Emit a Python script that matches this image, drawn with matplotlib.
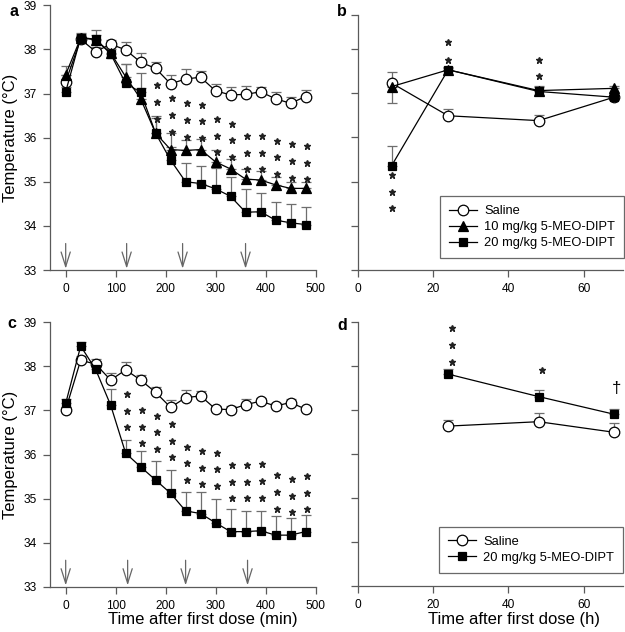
import matplotlib
matplotlib.use("Agg")
import matplotlib.pyplot as plt
import numpy as np

plt.rcParams['font.family'] = ['Liberation Sans', 'DejaVu Sans']

# ---------------- data ----------------
t_min = [0, 30, 60, 90, 120, 150, 180, 210, 240, 270, 300, 330, 360, 390, 420, 450, 480]

a_saline = [37.27, 38.23, 37.95, 38.12, 37.99, 37.71, 37.57, 37.22, 37.33, 37.37, 37.06, 36.97, 36.98, 37.04, 36.88, 36.78, 36.93]
a_saline_err = [0.15, 0.1, 0.1, 0.1, 0.17, 0.2, 0.15, 0.2, 0.22, 0.15, 0.15, 0.17, 0.19, 0.11, 0.16, 0.15, 0.15]
a_10 = [37.43, 38.26, 38.22, 37.92, 37.38, 36.88, 36.1, 35.73, 35.71, 35.73, 35.45, 35.29, 35.06, 35.04, 34.93, 34.85, 34.85]
a_10_err = [0.2, 0.1, 0.1, 0.1, 0.3, 0.25, 0.35, 0.37, 0.23, 0.25, 0.27, 0.22, 0.24, 0.2, 0.17, 0.15, 0.15]
a_20 = [37.04, 38.27, 38.23, 37.9, 37.23, 37.03, 36.1, 35.49, 35.0, 34.96, 34.84, 34.67, 34.31, 34.32, 34.13, 34.07, 34.03]
a_20_err = [0.1, 0.1, 0.2, 0.15, 0.45, 0.44, 0.38, 0.3, 0.42, 0.4, 0.48, 0.43, 0.52, 0.43, 0.42, 0.42, 0.39]
a_star_t = [180, 210, 240, 270, 300, 330, 360, 390, 420, 450, 480]
a_star_top = [37.19, 36.89, 36.78, 36.75, 36.42, 36.32, 36.04, 36.04, 35.93, 35.85, 35.81]
a_arrows = [0, 122, 234, 360]

c_saline = [37.02, 38.14, 38.05, 37.69, 37.92, 37.69, 37.41, 37.07, 37.29, 37.33, 37.03, 37.02, 37.13, 37.21, 37.1, 37.18, 37.03]
c_saline_err = [0.05, 0.1, 0.12, 0.15, 0.17, 0.11, 0.13, 0.17, 0.17, 0.12, 0.08, 0.08, 0.13, 0.08, 0.08, 0.08, 0.05]
c_20 = [37.16, 38.46, 37.93, 37.12, 36.03, 35.72, 35.42, 35.12, 34.72, 34.66, 34.45, 34.25, 34.25, 34.27, 34.17, 34.17, 34.25]
c_20_err = [0.1, 0.1, 0.2, 0.37, 0.31, 0.37, 0.44, 0.53, 0.44, 0.5, 0.53, 0.51, 0.47, 0.45, 0.44, 0.38, 0.38]
c_star_t = [120, 150, 180, 210, 240, 270, 300, 330, 360, 390, 420, 450, 480]
c_star_top = [37.37, 37.01, 36.88, 36.69, 36.18, 36.08, 36.04, 35.76, 35.76, 35.78, 35.53, 35.44, 35.51]
c_arrows = [0, 124, 240, 364]

t_h_b = [9, 24, 48, 68]
b_saline = [37.23, 36.49, 36.38, 36.91]
b_saline_err = [0.26, 0.15, 0.13, 0.05]
b_10 = [37.15, 37.53, 37.06, 37.11]
b_10_err_lo = [0.36, 0.0, 0.0, 0.0]
b_10_err_hi = [0.0, 0.05, 0.1, 0.05]
b_20 = [35.36, 37.53, 37.04, 36.91]
b_20_err_lo = [0.0, 0.0, 0.08, 0.0]
b_20_err_hi = [0.45, 0.07, 0.1, 0.05]
b_star_t = [9, 24, 24, 48, 48, 9, 9]
b_star_y = [35.15, 38.15, 37.76, 37.76, 37.39, 34.77, 34.40]

t_h_d = [24, 48, 68]
d_saline = [36.63, 36.73, 36.49]
d_saline_err = [0.14, 0.2, 0.2]
d_20 = [37.81, 37.3, 36.9]
d_20_err = [0.12, 0.14, 0.11]
d_star_t = [25, 25, 25, 49]
d_star_y = [38.85, 38.47, 38.09, 37.9]
d_dagger = (68.7, 37.49)

labels3 = ['Saline', '10 mg/kg 5-MEO-DIPT', '20 mg/kg 5-MEO-DIPT']

# ---------------- style ----------------
W, H = 625, 632
fig = plt.figure(figsize=(W / 100, H / 100), dpi=100)
SP = '#5a5a5a'
ECOL = '#6e6e6e'
FS = 8.6
LFS = 9.3
AXFS = 12.0

def mk_ax(l, t, r, b):
    ax = fig.add_axes([l / W, 1 - b / H, (r - l) / W, (b - t) / H])
    for s in ['top', 'right']:
        ax.spines[s].set_visible(False)
    for s in ['left', 'bottom']:
        ax.spines[s].set_color(SP)
        ax.spines[s].set_linewidth(0.9)
    ax.tick_params(direction='out', length=5, width=0.9, color=SP,
                   labelsize=FS, pad=4.5)
    return ax

def series(ax, x, y, lo, hi, marker, face, ms, label):
    ax.errorbar(x, y, yerr=[lo, hi], fmt='none', ecolor=ECOL,
                elinewidth=0.9, capsize=3.5, capthick=0.9, zorder=2)
    ax.plot(x, y, color='black', lw=0.9, marker=marker, ms=ms,
            mfc=face, mec='black', mew=0.9, zorder=3, label=label)

def stars(ax, xs, ys):
    ax.plot(xs, ys, ls='none', marker='*', ms=4.8, color='#222222', zorder=4)

def arrows(ax, xs):
    for x in xs:
        ax.annotate('', xy=(x, 33.03), xytext=(x, 33.6),
                    arrowprops=dict(arrowstyle='->,head_length=1.05,head_width=0.33',
                                    color='#666666', lw=0.9, mutation_scale=10,
                                    shrinkA=0, shrinkB=0))

def star_cols(ts, tops, n=3, step=0.378):
    xs, ys = [], []
    for t, top in zip(ts, tops):
        for k in range(n):
            xs.append(t + 3)
            ys.append(top - k * step)
    return xs, ys

def legend(ax, anchor):
    leg = ax.legend(loc='lower right', bbox_to_anchor=anchor, borderaxespad=0,
                    fontsize=LFS, frameon=True, fancybox=False, handlelength=2.2,
                    handletextpad=0.55, labelspacing=0.3, borderpad=0.7)
    leg.get_frame().set_edgecolor('#444444')
    leg.get_frame().set_linewidth(0.9)
    return leg

zeros17 = [0.0] * 17

# ---- panel a ----
axa = mk_ax(50, 5.3, 316, 270)
series(axa, t_min, a_saline, zeros17, a_saline_err, 'o', 'white', 7.6, labels3[0])
series(axa, t_min, a_10, zeros17, a_10_err, '^', 'black', 7.2, labels3[1])
series(axa, t_min, a_20, zeros17, a_20_err, 's', 'black', 6.4, labels3[2])
sx, sy = star_cols(a_star_t, a_star_top)
stars(axa, sx, sy)
arrows(axa, a_arrows)
axa.set_xlim(-31.4, 501)
axa.set_ylim(33, 39)
axa.set_xticks([0, 100, 200, 300, 400, 500])
axa.set_yticks([33, 34, 35, 36, 37, 38, 39])
axa.set_ylabel('Temperature (°C)', fontsize=AXFS)
axa.yaxis.set_label_coords(-0.122, 0.5)

# ---- panel b ----
axb = mk_ax(357.7, 15, 623, 270)
series(axb, t_h_b, b_saline, [0] * 4, b_saline_err, 'o', 'white', 7.6, labels3[0])
series(axb, t_h_b, b_10, b_10_err_lo, b_10_err_hi, '^', 'black', 7.2, labels3[1])
series(axb, t_h_b, b_20, b_20_err_lo, b_20_err_hi, 's', 'black', 6.4, labels3[2])
stars(axb, b_star_t, b_star_y)
axb.set_xlim(0, 70.4)
axb.set_ylim(33, 38.77)
axb.set_xticks([0, 20, 40, 60])
axb.set_yticks([33, 34, 35, 36, 37, 38, 38.77])
axb.set_yticklabels([])
legend(axb, (1.005, 0.046))

# ---- panel c ----
axc = mk_ax(50, 322.3, 316, 586.7)
series(axc, t_min, c_saline, zeros17, c_saline_err, 'o', 'white', 7.6, labels3[0])
series(axc, t_min, c_20, zeros17, c_20_err, 's', 'black', 6.4, labels3[2])
sx, sy = star_cols(c_star_t, c_star_top)
stars(axc, sx, sy)
arrows(axc, c_arrows)
axc.set_xlim(-31.4, 501)
axc.set_ylim(33, 39)
axc.set_xticks([0, 100, 200, 300, 400, 500])
axc.set_yticks([33, 34, 35, 36, 37, 38, 39])
axc.set_ylabel('Temperature (°C)', fontsize=AXFS)
axc.yaxis.set_label_coords(-0.122, 0.5)
axc.set_xlabel('Time after first dose (min)', fontsize=AXFS)
axc.xaxis.set_label_coords(0.576, -0.097)

# ---- panel d ----
axd = mk_ax(357.7, 321.7, 623, 586)
series(axd, t_h_d, d_saline, [0] * 3, d_saline_err, 'o', 'white', 7.6, labels3[0])
series(axd, t_h_d, d_20, [0] * 3, d_20_err, 's', 'black', 6.4, labels3[2])
stars(axd, d_star_t, d_star_y)
axd.text(d_dagger[0], d_dagger[1], '†', ha='center', va='center', fontsize=12)
axd.set_xlim(0, 70.4)
axd.set_ylim(33, 39)
axd.set_xticks([0, 20, 40, 60])
axd.set_yticks([33, 34, 35, 36, 37, 38, 39])
axd.set_yticklabels([])
axd.set_xlabel('Time after first dose (h)', fontsize=AXFS)
axd.xaxis.set_label_coords(0.589, -0.097)
legend(axd, (1.0, 0.05))

# panel letters
for lbl, x, y in [('a', 14, 12), ('b', 342, 12), ('c', 12, 324), ('d', 342, 325)]:
    fig.text(x / W, 1 - y / H, lbl, fontsize=11.5, fontweight='bold',
             ha='center', va='center')

fig.savefig('out.png', dpi=100)
